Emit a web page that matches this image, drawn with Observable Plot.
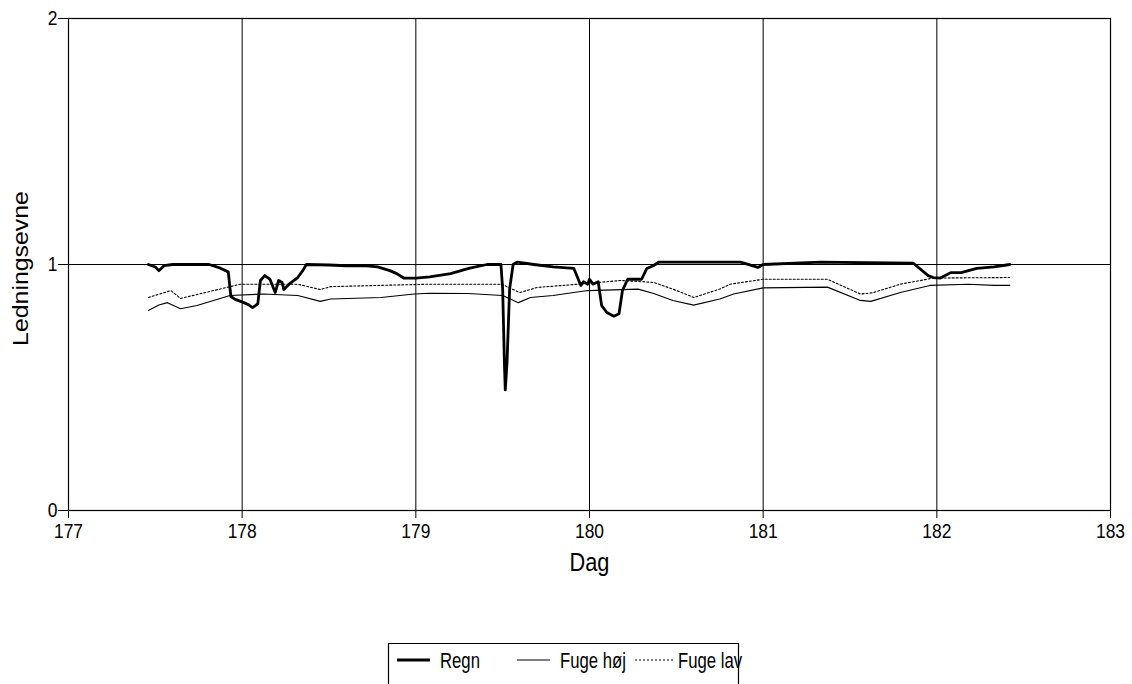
<!DOCTYPE html>
<html>
<head>
<meta charset="utf-8">
<script src="https://cdn.jsdelivr.net/npm/d3@7"></script>
<script src="https://cdn.jsdelivr.net/npm/@observablehq/plot@0.6"></script>
<style>
  html, body { margin: 0; padding: 0; background: white; }
  body { width: 1132px; height: 684px; position: relative; overflow: hidden; font-family: "Liberation Sans", Arial, sans-serif; }
  #chart svg { display: block; }
  #legend { position: absolute; left: 0; top: 0; }
</style>
</head>
<body>
<div id="chart"></div>
<script>
const xTicks = [177, 178, 179, 180, 181, 182, 183];
const yTicks = [0, 1, 2];
const seriesNames = ["Regn", "Fuge høj", "Fuge lav"];

const regnDag = [177.46,177.50,177.52,177.55,177.60,177.70,177.81,177.875,177.92,177.935,177.96,178.01,178.04,178.06,178.09,178.105,178.13,178.16,178.19,178.21,178.23,178.24,178.27,178.32,178.35,178.37,178.5,178.6,178.7,178.78,178.85,178.89,178.93,179.0,179.08,179.2,179.31,179.41,179.49,179.50,179.51,179.515,179.525,179.54,179.56,179.585,179.68,179.79,179.91,179.95,179.965,179.99,180.0,180.02,180.05,180.07,180.1,180.14,180.17,180.19,180.22,180.3,180.33,180.37,180.4,180.87,180.97,181.0,181.33,181.865,181.95,181.98,182.02,182.08,182.14,182.23,182.33,182.42];
const regnVal = [1.00,0.99,0.975,0.995,1.00,1.00,1.00,0.985,0.97,0.87,0.858,0.845,0.835,0.825,0.84,0.935,0.955,0.94,0.886,0.935,0.927,0.898,0.92,0.947,0.976,1.0,0.998,0.995,0.995,0.99,0.975,0.963,0.945,0.945,0.95,0.963,0.985,1.0,1.0,0.9,0.6,0.49,0.6,0.9,1.0,1.01,1.0,0.99,0.984,0.915,0.93,0.92,0.94,0.92,0.93,0.833,0.805,0.79,0.8,0.895,0.94,0.94,0.984,0.996,1.01,1.01,0.988,1.0,1.01,1.005,0.955,0.947,0.945,0.967,0.967,0.984,0.99,1.0];

const hojDag = [177.46,177.52,177.57,177.645,177.74,177.93,178.12,178.32,178.45,178.51,178.8,178.99,179.08,179.3,179.5,179.59,179.66,179.79,179.99,180.28,180.37,180.48,180.6,180.75,180.83,181.0,181.37,181.56,181.62,181.79,181.96,182.18,182.33,182.42];
const hojVal = [0.813,0.835,0.845,0.82,0.833,0.874,0.88,0.874,0.85,0.86,0.866,0.88,0.883,0.882,0.874,0.845,0.866,0.874,0.894,0.9,0.882,0.854,0.835,0.86,0.88,0.905,0.908,0.854,0.85,0.886,0.915,0.92,0.915,0.915];

const lavDag = [177.46,177.59,177.645,177.835,177.99,178.32,178.45,178.51,179.08,179.5,179.53,179.6,179.7,179.85,180.18,180.37,180.48,180.6,180.75,180.81,181.0,181.37,181.56,181.63,181.79,181.98,182.42];
const lavVal = [0.866,0.894,0.862,0.894,0.92,0.92,0.898,0.91,0.92,0.92,0.907,0.886,0.907,0.915,0.935,0.927,0.9,0.866,0.9,0.92,0.94,0.94,0.88,0.885,0.92,0.945,0.947];

const toRows = (xs, ys) => xs.map((d, i) => ({dag: d, v: ys[i]}));
const regn = toRows(regnDag, regnVal);
const hoj = toRows(hojDag, hojVal);
const lav = toRows(lavDag, lavVal);

const chart = Plot.plot({
  width: 1132,
  height: 640,
  marginLeft: 68,
  marginRight: 22,
  marginTop: 18,
  marginBottom: 130,
  x: {domain: [177, 183]},
  y: {domain: [0, 2]},
  style: {fontFamily: "'Liberation Sans', Arial, sans-serif", fontSize: "21px", background: "white", color: "black"},
  marks: [
    Plot.gridX([178, 179, 180, 181, 182], {stroke: "black", strokeOpacity: 1, strokeWidth: 1}),
    Plot.gridY([1], {stroke: "black", strokeOpacity: 1, strokeWidth: 1}),
    Plot.frame({stroke: "black", strokeWidth: 1.2}),
    Plot.axisX({ticks: xTicks, tickSize: 8, tickPadding: 5, tickFormat: d3.format("d"), label: null, fontSize: 21}),
    Plot.axisY({ticks: yTicks, tickSize: 10, tickPadding: 1, tickFormat: d3.format("d"), label: null, fontSize: 21}),
    Plot.text(["Dag"], {frameAnchor: "bottom", lineAnchor: "top", textAnchor: "middle", dy: 43, fontSize: 25}),
    Plot.text(["Ledningsevne"], {frameAnchor: "left", lineAnchor: "middle", textAnchor: "middle", dx: -48, dy: 4, rotate: -90, fontSize: 22}),
    Plot.line(hoj, {x: "dag", y: "v", stroke: "black", strokeWidth: 1.1}),
    Plot.line(lav, {x: "dag", y: "v", stroke: "black", strokeWidth: 1.1, strokeDasharray: "2,2"}),
    Plot.line(regn, {x: "dag", y: "v", stroke: "black", strokeWidth: 2.8})
  ]
});
document.getElementById("chart").appendChild(chart);

// condense text horizontally (the reference lettering is tall and narrow)
function squeeze(el, sx, sy) {
  const t = el.getAttribute("transform");
  if (t) {
    el.setAttribute("transform", t + ` scale(${sx},${sy})`);
  } else {
    const x = +(el.getAttribute("x") || 0), y = +(el.getAttribute("y") || 0);
    el.removeAttribute("x"); el.removeAttribute("y");
    el.setAttribute("transform", `translate(${x},${y}) scale(${sx},${sy})`);
  }
}
d3.select(chart).selectAll("text").each(function() {
  const s = this.textContent;
  if (s === "Dag") squeeze(this, 0.87, 1);
  else if (s === "Ledningsevne") squeeze(this, 1.13, 1);
  else squeeze(this, 0.83, 1);
});

// legend (below the plot)
const swatches = [
  {x1: 397, x2: 430, sw: 3, dash: null, tx: 440},
  {x1: 517, x2: 550, sw: 1.1, dash: null, tx: 560},
  {x1: 635, x2: 673, sw: 1.1, dash: "2,2", tx: 678}
];
const lg = d3.select("body").append("svg")
  .attr("id", "legend").attr("width", 1132).attr("height", 684)
  .style("pointer-events", "none");
lg.append("path").attr("d", "M388.5,690 V643.5 H738.5 V690")
  .attr("fill", "none").attr("stroke", "black").attr("stroke-width", 1.2);
seriesNames.forEach((name, i) => {
  const s = swatches[i];
  lg.append("line").attr("x1", s.x1).attr("x2", s.x2).attr("y1", 660).attr("y2", 660)
    .attr("stroke", "black").attr("stroke-width", s.sw)
    .attr("stroke-dasharray", s.dash);
  lg.append("text").attr("transform", `translate(${s.tx},668) scale(0.76,1)`)
    .attr("font-family", "'Liberation Sans', Arial, sans-serif").attr("font-size", 22)
    .attr("fill", "black").text(name);
});
</script>
</body>
</html>
